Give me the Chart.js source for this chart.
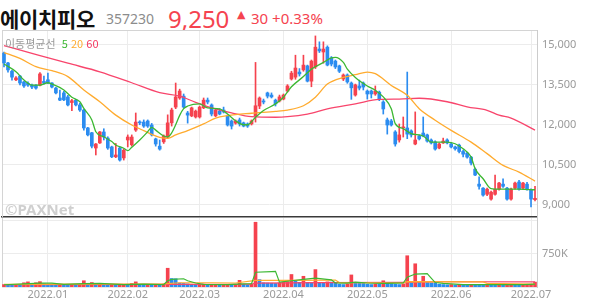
<!DOCTYPE html>
<html lang="ko">
<head>
<meta charset="utf-8">
<script src="https://cdn.jsdelivr.net/npm/chart.js@4.4.1/dist/chart.umd.min.js"></script>
<style>
  body { margin: 0; width: 594px; height: 304px; background: #fff; position: relative; overflow: hidden; font-family: 'Noto Sans', sans-serif; }
  .abs { position: absolute; white-space: nowrap; line-height: 1; }
  canvas { position: absolute; left: 0; }
  #prixCanvas { top: 28px; }
  #volCanvas { top: 216px; }
  #nom { left: 0; top: 3px; font: bold 21px 'Noto Sans CJK KR'; color: #111; letter-spacing: -0.3px; }
  #code { left: 106px; top: 9px; font: 14px 'Noto Sans'; color: #8c8c8c; }
  #prix { left: 168px; top: 2px; font: 24px 'Noto Sans'; color: #f5434f; }
  #tri { left: 237px; top: 8px; font: 11px 'DejaVu Sans'; color: #f5434f; }
  #var { left: 251px; top: 8px; font: 15px 'Noto Sans'; color: #f5434f; }
  #legende { left: 5px; top: 35px; font: 11px 'Noto Sans CJK KR'; color: #9a9a9a; z-index: 2; }
  #filigrane { left: 5px; top: 199px; font: bold 15px 'Noto Sans'; color: #cfcfcf; z-index: 2; }
</style>
</head>
<body>
<div class="abs" id="nom">에이치피오</div>
<div class="abs" id="code">357230</div>
<div class="abs" id="prix">9,250</div>
<div class="abs" id="tri">▲</div>
<div class="abs" id="var">30 +0.33%</div>
<canvas id="prixCanvas" width="594" height="192"></canvas>
<canvas id="volCanvas" width="594" height="88"></canvas>
<div class="abs" id="legende">이동평균선&nbsp; <span style="color:#3cb832">5</span> <span style="color:#ffab2e">20</span> <span style="color:#f5365f">60</span></div>
<div class="abs" id="filigrane">©PAXNet</div>
<script>
// séances du 2021-12 au 2022-07, une entrée par jour de bourse
const ouvertures = [14680,14310,14000,13680,13820,13600,13550,13480,13480,13480,
  13620,13680,13560,13370,13000,13190,13040,12830,12920,12740,
  12550,11880,11700,11130,11320,11730,11500,11170,10800,11130,
  10760,11430,11250,11800,12100,12100,12140,11990,11470,11200,
  11360,11540,12070,12660,13000,13070,12440,12330,12290,12290,
  12630,12920,12740,12330,12510,12550,12330,12140,12060,12180,
  12070,12030,12030,12330,12700,12890,13190,13110,12920,12890,
  12960,13260,13710,13780,13970,14050,14200,13630,14160,14830,
  14720,14900,14500,14380,14200,13710,13860,13560,13110,13450,
  13560,13260,13260,13150,13220,12850,12180,12140,11730,11430,
  11880,11880,11770,11280,11580,11690,11620,11430,11360,11130,
  11320,11430,11280,11170,11240,11000,10940,10790,10340,9780,
  9630,9400,9220,9400,9590,9780,9630,9220,9630,9860,
  9630,9780,9560,9200];
const hauts = [14720,14330,14030,13800,13850,13620,13600,13520,13500,13950,
  13820,13930,13580,13400,13300,13250,13100,12950,12950,12800,
  12580,11900,11720,11300,11750,11850,11550,11200,11300,11170,
  11100,11620,11620,12440,12150,12180,12180,12050,11500,11430,
  11620,12370,12620,13560,13330,13150,12500,12660,12550,12700,
  13000,13000,12780,12600,12600,12660,12370,12180,12180,12250,
  12100,12070,12180,14330,13040,12960,13220,13190,12960,13110,
  13150,13500,14000,14600,14100,14600,14230,14420,15320,15100,
  15100,14950,14550,14420,14230,13900,13900,13600,13520,13670,
  13600,13300,13300,13450,13260,12900,12250,12200,11780,12030,
  12290,13970,11810,12480,11620,12290,11650,11470,11400,11320,
  11500,11470,11320,11200,11280,11050,10980,10820,10380,10050,
  9650,9630,9520,10120,9850,9980,9660,9630,9860,9920,
  9850,9850,9600,9700];
const bas = [14160,13970,13670,13650,13490,13400,13430,13350,13330,13450,
  13520,13540,13380,13150,12900,12900,12700,12530,12700,12500,
  11800,11580,11130,10870,11300,11430,11080,10770,10770,10640,
  10680,11170,11200,11750,12000,11900,11900,11580,11200,11050,
  11300,11500,11950,12600,12950,12620,12060,12300,12250,12250,
  12600,12780,12330,12300,12370,12440,11950,11840,12020,11950,
  11920,11900,11990,12100,12600,12780,13000,13000,12700,12850,
  12930,13220,13670,13700,13820,14000,13600,13420,14100,14700,
  14300,14200,14200,14100,13950,13650,13550,12950,13070,13300,
  13300,12960,13000,13100,12900,12400,11650,11950,11200,11350,
  11540,11480,11540,11250,11430,11550,11350,11280,11050,11100,
  11300,11280,11130,11050,10950,10800,10750,10500,10100,9590,
  9330,9350,9180,9370,9550,9660,9180,9180,9590,9550,
  9590,9550,8930,9150];
const clotures = [14310,14050,13780,13750,13560,13450,13480,13410,13370,13900,
  13560,13560,13410,13190,12920,12930,12740,12900,12740,12550,
  11880,11620,11200,11280,11730,11540,11130,10800,10870,10680,
  11050,11540,11540,12100,12070,11950,11950,11620,11280,11090,
  11580,12070,12550,13040,13260,12660,12360,12630,12510,12660,
  12920,12850,12400,12550,12400,12480,11990,11950,12140,12030,
  11950,11950,12140,12710,13000,12850,13070,13040,12780,13040,
  13110,13450,13930,14120,13900,14230,13630,14380,14900,14760,
  14830,14230,14270,14160,14000,13860,13600,13380,13490,13370,
  13410,13150,13150,13260,12960,12590,11990,11990,11280,11620,
  11920,11650,11620,11430,11470,11580,11390,11320,11090,11280,
  11390,11320,11170,11100,11000,10900,10790,10570,10120,9700,
  9370,9590,9480,9590,9820,9700,9220,9590,9820,9590,
  9820,9590,9220,9250];
// volume en milliers
const volumes = [55,45,40,45,42,95,115,60,95,120,
  70,60,55,50,60,55,50,60,45,50,
  140,70,100,60,65,55,50,60,45,50,
  55,45,80,115,60,50,55,45,50,40,
  65,420,190,185,90,80,70,60,55,60,
  65,50,55,60,45,50,55,45,50,150,
  60,50,70,1450,165,95,90,85,80,95,
  110,120,280,130,105,240,100,95,390,95,
  85,115,110,90,60,55,65,270,100,90,
  80,60,55,65,60,140,90,75,60,55,
  70,700,100,520,110,240,100,95,90,60,
  55,50,55,45,55,50,45,60,55,50,
  45,60,55,50,55,45,50,60,55,45,
  50,55,60,110];

// moyennes mobiles : [séance, valeur]
const mm5 = [[0,14270],[3,13980],[5,13670],[7,13480],[9,13480],[11,13570],[12,13520],[15,13300],[17,13030],[19,12860],[20,12610],[22,12180],[23,11740],[25,11550],[27,11370],[28,11240],[30,11120],[31,11030],[32,11160],[34,11430],[36,11740],[37,11900],[38,11800],[40,11580],[41,11550],[42,11700],[43,12000],[44,12350],[45,12600],[46,12700],[49,12780],[51,12630],[54,12590],[56,12400],[58,12150],[60,12000],[61,12000],[63,12280],[65,12530],[68,12780],[70,13030],[72,13420],[75,13800],[77,14080],[80,14330],[82,14500],[83,14520],[85,14330],[86,14080],[88,13770],[91,13450],[93,13290],[95,13040],[97,12600],[98,12040],[100,11850],[102,11670],[105,11580],[107,11350],[111,11350],[113,11290],[115,11100],[117,10790],[118,10360],[120,9980],[122,9610],[124,9590],[129,9590],[133,9570]];
const mm20 = [[0,14700],[4,14480],[8,14170],[12,14020],[16,13800],[20,13300],[24,12860],[28,12360],[32,11990],[35,11780],[39,11530],[41,11490],[43,11620],[46,11780],[50,12030],[53,12250],[56,12340],[62,12430],[68,12500],[71,12550],[75,12710],[78,13030],[81,13520],[85,13770],[88,13870],[91,13970],[93,13910],[97,13470],[101,13100],[104,12600],[108,12170],[112,11790],[117,11350],[121,10920],[125,10480],[129,10230],[133,9890]];
const mm60 = [[0,14960],[7,14670],[16,14300],[24,13980],[32,13570],[39,13200],[44,13070],[48,12840],[53,12590],[57,12440],[62,12300],[68,12280],[71,12300],[76,12400],[81,12590],[88,12780],[94,12950],[99,12960],[104,12990],[111,12860],[116,12670],[121,12540],[124,12360],[127,12250],[133,11800]];
const volMm5 = [[0,50],[5,70],[9,88],[12,85],[15,60],[20,75],[24,80],[30,55],[35,65],[40,55],[41,140],[42,170],[45,185],[46,140],[48,90],[50,60],[56,55],[60,70],[62,75],[63,330],[67,345],[68,350],[69,110],[72,140],[75,170],[78,200],[82,160],[83,90],[86,85],[88,110],[91,90],[95,80],[98,85],[100,90],[101,220],[103,290],[106,300],[107,200],[108,100],[110,80],[115,55],[120,52],[125,52],[130,52],[133,65]];
const volMm20 = [[0,60],[20,65],[40,70],[44,95],[52,95],[58,90],[63,150],[70,150],[83,155],[84,100],[100,90],[101,120],[120,115],[121,80],[133,65]];
const volMm60 = [[0,55],[40,58],[62,62],[63,85],[80,100],[100,105],[110,118],[133,115]];

const moisLabels = ['2022.01', '2022.02', '2022.03', '2022.04', '2022.05', '2022.06', '2022.07'];
const moisDebut = [11, 31, 49, 70, 91, 112, 132];
const prixTicks = [9000, 10500, 12000, 13500, 15000];
const volTicks = [750, 1500];

const ROUGE = '#f5424e';
const BLEU = '#2b8cf0';
const seances = clotures.map((c, i) => i);
const couleurBougie = clotures.map((c, i) => c >= ouvertures[i] ? ROUGE : BLEU);
const couleurVol = volumes.map((v, i) => (i === 0 || v >= volumes[i - 1]) ? ROUGE : BLEU);

const enPoints = pts => pts.map(p => ({ x: p[0], y: p[1] }));

const cadre = {
  id: 'cadre',
  beforeDatasetsDraw(chart, args, opts) {
    const ctx = chart.ctx, a = chart.chartArea;
    ctx.save();
    ctx.strokeStyle = '#d4d4d4';
    ctx.lineWidth = 1;
    ctx.beginPath();
    if (opts.haut) { ctx.moveTo(a.left, a.top + 0.5); ctx.lineTo(a.right, a.top + 0.5); }
    ctx.moveTo(a.left + 0.5, a.top); ctx.lineTo(a.left + 0.5, a.bottom);
    ctx.stroke();
    ctx.restore();
  }
};

Chart.defaults.font.family = "'Noto Sans', sans-serif";
Chart.defaults.animation = false;

function axeX(hauteur, montrer) {
  return {
    offset: true,
    afterBuildTicks: s => { s.ticks = moisDebut.map(v => ({ value: v })); },
    afterFit: s => { s.height = hauteur; s.paddingLeft = 0; s.paddingRight = 0; },
    grid: { offset: false, color: '#ececec', drawTicks: false },
    border: montrer ? { color: '#e6e6e6' } : { color: '#3a3a3a', width: 1.5 },
    ticks: {
      display: montrer, autoSkip: false, maxRotation: 0, padding: 1,
      color: '#9a9a9a', font: { size: 11 },
      callback: v => moisLabels[moisDebut.indexOf(v)] || ''
    }
  };
}

function axeY(min, max, valeurs, format) {
  return {
    position: 'right', min: min, max: max,
    afterBuildTicks: s => { s.ticks = valeurs.map(v => ({ value: v })); },
    afterFit: s => { s.width = 57; s.paddingTop = 0; s.paddingBottom = 0; },
    grid: { color: '#ececec', drawTicks: false },
    border: { color: '#cccccc' },
    ticks: { padding: 5, color: '#9a9a9a', font: { size: 11 }, callback: format }
  };
}

new Chart(document.getElementById('prixCanvas'), {
  type: 'bar',
  data: {
    labels: seances,
    datasets: [
      { type: 'line', data: enPoints(mm5), borderColor: '#3cb832', borderWidth: 1.3, pointRadius: 0, cubicInterpolationMode: 'monotone', order: 0 },
      { type: 'line', data: enPoints(mm20), borderColor: '#ffab2e', borderWidth: 1.3, pointRadius: 0, cubicInterpolationMode: 'monotone', order: 0 },
      { type: 'line', data: enPoints(mm60), borderColor: '#f8456c', borderWidth: 1.3, pointRadius: 0, cubicInterpolationMode: 'monotone', order: 0 },
      { data: ouvertures.map((o, i) => [o, clotures[i]]), backgroundColor: couleurBougie, barThickness: 3, minBarLength: 1, grouped: false, order: 1 },
      { data: bas.map((b, i) => [b, hauts[i]]), backgroundColor: couleurBougie, barThickness: 1, grouped: false, order: 2 }
    ]
  },
  options: {
    responsive: false,
    layout: { padding: { top: 2, bottom: 3, left: 2, right: 0 } },
    plugins: { legend: { display: false }, tooltip: { enabled: false }, cadre: { haut: true } },
    scales: {
      x: axeX(0, false),
      y: axeY(8551, 15542, prixTicks, v => v.toLocaleString('en-US'))
    }
  },
  plugins: [cadre]
});

new Chart(document.getElementById('volCanvas'), {
  type: 'bar',
  data: {
    labels: seances,
    datasets: [
      { type: 'line', data: enPoints(volMm5), borderColor: '#3cb832', borderWidth: 1.2, pointRadius: 0, order: 0 },
      { type: 'line', data: enPoints(volMm20), borderColor: '#ffab2e', borderWidth: 1.2, pointRadius: 0, order: 0 },
      { type: 'line', data: enPoints(volMm60), borderColor: '#f8456c', borderWidth: 1.2, pointRadius: 0, order: 0 },
      { data: volumes, backgroundColor: couleurVol, barThickness: 3, minBarLength: 1, order: 1 }
    ]
  },
  options: {
    responsive: false,
    layout: { padding: { top: 2, bottom: 0, left: 2, right: 0 } },
    plugins: { legend: { display: false }, tooltip: { enabled: false }, cadre: { haut: false } },
    scales: {
      x: axeX(17, true),
      y: axeY(0, 1545, volTicks, v => v === 750 ? '750K' : '')
    }
  },
  plugins: [cadre]
});
</script>
</body>
</html>
